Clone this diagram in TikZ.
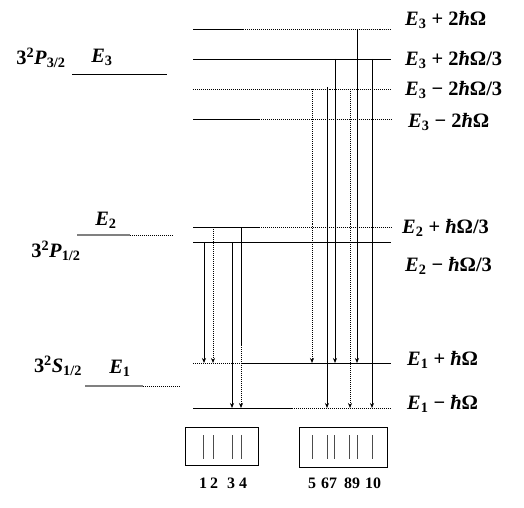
\documentclass[tikz,border=0pt]{standalone}
\usepackage{fontspec}
\setmainfont{Liberation Serif}
\usetikzlibrary{arrows.meta}
\newcommand{\En}[1]{\textit{E}\textsubscript{#1}}
\newcommand{\hb}{\textit{ħ}}

\begin{document}
\begin{tikzpicture}[x=1bp,y=-1bp,
    lvl/.style={line width=0.8pt},
    dlvl/.style={line width=0.8pt,dash pattern=on 1pt off 1pt},
    glvl/.style={line width=1.3pt,black!50},
    trans/.style={line width=0.7pt,-{Stealth[length=5bp,width=4bp]}},
    dtrans/.style={trans,dash pattern=on 1pt off 1pt},
    lab/.style={font=\fontsize{20.5}{24}\selectfont\bfseries,inner sep=0pt},
    num/.style={font=\fontsize{16}{18}\selectfont\bfseries,inner sep=0pt}]
    \useasboundingbox (0,0) rectangle (524,508);

    % fine-structure levels (left)
    \node[lab] (p32) at (41,58) {3\textsuperscript{2}\textit{P}\textsubscript{3/2}};
    \node[lab] (e3) at (102,57) {\En{3}};
    \draw[lvl] (72,74) -- (167,74);
    \node[lab] (p12) at (56,251) {3\textsuperscript{2}\textit{P}\textsubscript{1/2}};
    \node[lab] (e2) at (106,220) {\En{2}};
    \draw[glvl] (77,235) -- (130,235);
    \draw[dlvl] (130,235) -- (173,235);
    \node[lab] (s12) at (58,366) {3\textsuperscript{2}\textit{S}\textsubscript{1/2}};
    \node[lab] (e1) at (120,368) {\En{1}};
    \draw[glvl] (85,386) -- (143,386);
    \draw[dlvl] (143,386) -- (180,386);

    % split levels (right)
    \foreach \n/\y in {a/29,b/59,c/89,d/119,e/227,f/242,g/363,h/408}
        \coordinate (\n) at (193,\y);
    \draw[lvl] (a) -- ++(50,0) coordinate (a1);
    \draw[dlvl] (a1) -- ++(148,0);
    \draw[lvl] (b) -- ++(198,0);
    \draw[dlvl] (c) -- ++(198,0);
    \draw[lvl] (d) -- ++(66,0) coordinate (d1);
    \draw[dlvl] (d1) -- ++(132,0);
    \draw[lvl] (e) -- ++(66,0) coordinate (e1);
    \draw[dlvl] (e1) -- ++(132,0);
    \draw[lvl] (f) -- ++(198,0);
    \draw[dlvl] (g) -- ++(49,0) coordinate (g1);
    \draw[lvl] (g1) -- ++(149,0);
    \draw[lvl] (h) -- ++(99,0) coordinate (h1);
    \draw[dlvl] (h1) -- ++(98,0);

    \node[lab,anchor=west] (la) at (405,20) {\En{3} + 2\hb Ω};
    \node[lab,anchor=west] (lb) at (405,60) {\En{3} + 2\hb Ω/3};
    \node[lab,anchor=west] (lc) at (405,90) {\En{3} − 2\hb Ω/3};
    \node[lab,anchor=west] (ld) at (408,122) {\En{3} − 2\hb Ω};
    \node[lab,anchor=west] (le) at (402,228) {\En{2} + \hb Ω/3};
    \node[lab,anchor=west] (lf) at (405,266) {\En{2} − \hb Ω/3};
    \node[lab,anchor=west] (lg) at (407,360) {\En{1} + \hb Ω};
    \node[lab,anchor=west] (lh) at (407,404) {\En{1} − \hb Ω};

    % transitions 1-4
    \draw[trans] (204,0 |- f) -- (204,0 |- g);
    \draw[dtrans] (213,0 |- e) -- (213,0 |- g);
    \draw[trans] (232,0 |- f) -- (232,0 |- h);
    \draw[lvl,line width=0.7pt] (241,0 |- e) -- (241,345) coordinate (t4);
    \draw[dtrans] (t4) -- (241,0 |- h);

    % transitions 5-10
    \draw[dtrans] (312,0 |- c) -- (312,0 |- g);
    \draw[trans] (327,87) -- (327,0 |- h);
    \draw[trans] (335,0 |- b) -- (335,0 |- g);
    \draw[dtrans] (350,0 |- c) -- (350,0 |- h);
    \draw[trans] (357,0 |- a) -- (357,0 |- g);
    \draw[trans] (372,0 |- b) -- (372,0 |- h);

    % spectra
    \draw[line width=0.8pt] (185,427) rectangle (258,465);
    \draw[line width=0.8pt] (299,427) rectangle (387,467);
    \foreach \x/\t/\nx in {203/1/203,213/2/214,232/3/231,241/4/243,
                           312/5/312,327/6/325,334/7/333,349/8/348,357/9/356,372/10/373} {
        \draw[line width=0.9pt,black!70] (\x,435) -- (\x,459);
        \node[num] (n\t) at (\nx,483) {\t};
    }
\end{tikzpicture}
\end{document}
